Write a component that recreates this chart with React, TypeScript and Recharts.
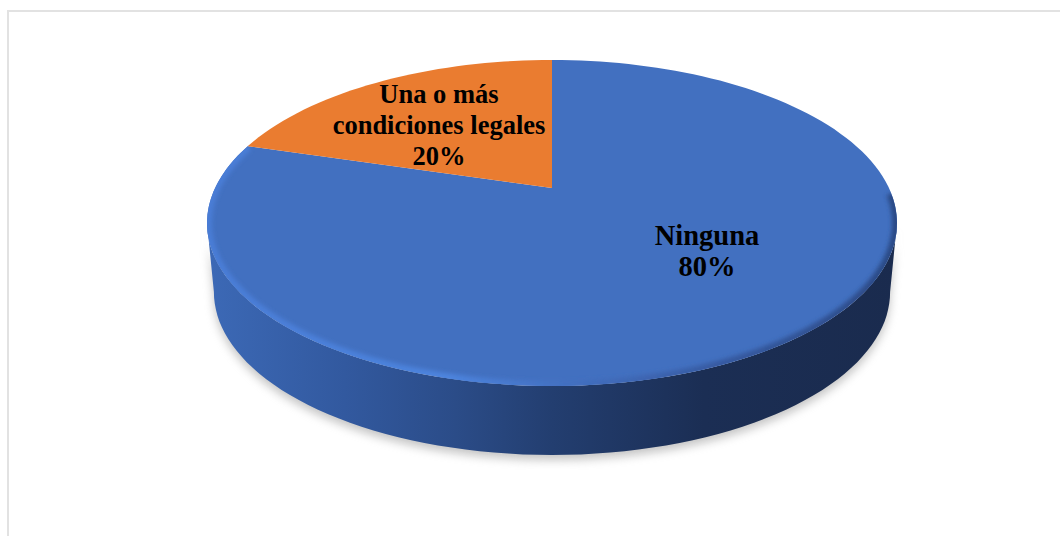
import React from "react";
import { PieChart, Pie, Cell } from "recharts";

// share of cases per category (labels round to 80 / 20)
const categories = ["Ninguna", "Una o más condiciones legales"];
const shares = [79.6, 20.4];
const sliceColors = ["#4270c0", "#ea7c30"];
const labelLines = [["Ninguna"], ["Una o más", "condiciones legales"]];

const data = categories.map((name, i) => ({ name, value: shares[i] }));

const W = 1060;
const H = 536;
const CX = 552;
const CY = 223;
const RX = 345;
const RY = 163;
const APEX_LIFT = 35; // the disc centre sits above the ellipse centre (perspective)
const DEPTH = 69;
const BOTTOM_SHRINK = 0.98;

// label centre relative to the pie centre
const labelOffset = [
  { dx: 155, dy: 37 },
  { dx: -113, dy: -89 },
];
const labelSize = [28.5, 26.5];

// disc angle -> screen point, a perspective map of the unit circle onto the ellipse
const c = APEX_LIFT / RY;
const project = (deg: number, cx: number, cy: number, rx: number, r = 1) => {
  const a = (deg * Math.PI) / 180;
  const u = Math.cos(a) * r;
  const v = Math.sin(a) * r;
  const d = 1 + c * v;
  const A = rx * Math.sqrt(1 - c * c);
  return { x: cx + (A * u) / d, y: cy - (RY * v + APEX_LIFT) / d };
};

const arcPoints = (from: number, to: number, cx: number, cy: number, rx: number, r = 1) => {
  const n = Math.max(8, Math.ceil(Math.abs(to - from) / 2));
  const pts = [];
  for (let i = 0; i <= n; i++) pts.push(project(from + ((to - from) * i) / n, cx, cy, rx, r));
  return pts;
};

const toPath = (pts: { x: number; y: number }[]) =>
  pts.map((p, i) => `${i ? "L" : "M"}${p.x.toFixed(1)} ${p.y.toFixed(1)}`).join(" ");

// angle where the disc outline reaches its widest point on screen
const SIDE_ANGLE = (Math.asin(c) * 180) / Math.PI;

function WallSector(props: any) {
  const { cx, cy, outerRadius, index } = props;
  if (index !== 0) return null;
  const from = -SIDE_ANGLE;
  const to = -180 + SIDE_ANGLE;
  const top = arcPoints(from, to, cx, cy, outerRadius);
  const bottom = arcPoints(to, from, cx, cy, outerRadius).map((p) => ({
    x: cx + (p.x - cx) * BOTTOM_SHRINK,
    y: p.y + DEPTH,
  }));
  const d = `${toPath(top)} ${toPath(bottom).replace("M", "L")} Z`;
  return (
    <g>
      <path d={d} fill="#8a8a8a" opacity={0.5} transform="translate(0 5)" filter="url(#pieShadow)" />
      <path d={d} fill="url(#wallFill)" />
    </g>
  );
}

function TopSector(props: any) {
  const { cx, cy, outerRadius, startAngle, endAngle, fill, index } = props;
  const rim = arcPoints(startAngle, endAngle, cx, cy, outerRadius);
  const apex = project(0, cx, cy, outerRadius, 0);
  const d = `M${apex.x} ${apex.y} ${toPath(rim).replace("M", "L")} Z`;
  return (
    <g>
      <path d={d} fill={fill} />
      {index === 0 && (
        <path
          d={toPath(arcPoints(-2, endAngle, cx, cy, outerRadius))}
          fill="none"
          stroke="url(#rimStroke)"
          strokeWidth={10}
          filter="url(#rimBlur)"
          clipPath="url(#faceClip)"
        />
      )}
    </g>
  );
}

function SliceLabel(props: any) {
  const { cx, cy, percent, index } = props;
  const x = cx + labelOffset[index].dx;
  const lines = [...labelLines[index], `${Math.round(percent * 100)}%`];
  const y0 = cy + labelOffset[index].dy - ((lines.length - 1) * 31) / 2;
  return (
    <text
      x={x}
      y={y0}
      textAnchor="middle"
      fontFamily="'Liberation Serif', serif"
      fontWeight="bold"
      fontSize={labelSize[index]}
      fill="#000"
    >
      {lines.map((line, i) => (
        <tspan key={line} x={x} y={y0 + i * 31}>
          {line}
        </tspan>
      ))}
    </text>
  );
}

export default function App() {
  return (
    <div style={{ position: "absolute", left: 0, top: 0, width: W, height: H, background: "#fff", overflow: "hidden" }}>
      <div
        style={{
          position: "absolute",
          left: 7,
          top: 10,
          width: 1053,
          height: 526,
          boxSizing: "border-box",
          borderLeft: "2px solid #e2e2e2",
          borderTop: "2px solid #e2e2e2",
        }}
      />
      <PieChart width={W} height={H} margin={{ top: 0, right: 0, bottom: 0, left: 0 }} style={{ position: "absolute", left: 0, top: 0 }}>
        <defs>
          <linearGradient id="wallFill" gradientUnits="userSpaceOnUse" x1={207} x2={897} y1={0} y2={0}>
            <stop offset="0" stopColor="#3c69b6" />
            <stop offset="0.2" stopColor="#32599f" />
            <stop offset="0.36" stopColor="#2b4c88" />
            <stop offset="0.5" stopColor="#233e70" />
            <stop offset="0.72" stopColor="#1b2e54" />
            <stop offset="1" stopColor="#1a2b4e" />
          </linearGradient>
          <linearGradient id="rimStroke" gradientUnits="userSpaceOnUse" x1={207} x2={897} y1={0} y2={0}>
            <stop offset="0" stopColor="#4a7dd6" />
            <stop offset="0.35" stopColor="#4d84de" />
            <stop offset="0.5" stopColor="#4472c4" />
            <stop offset="0.75" stopColor="#3659a0" />
            <stop offset="1" stopColor="#2b4a85" />
          </linearGradient>
          <filter id="pieShadow" x="-10%" y="-10%" width="120%" height="130%">
            <feGaussianBlur stdDeviation="5" />
          </filter>
          <filter id="rimBlur" x="-5%" y="-5%" width="110%" height="110%">
            <feGaussianBlur stdDeviation="2" />
          </filter>
          <clipPath id="faceClip">
            <ellipse cx={CX} cy={CY} rx={RX} ry={RY} />
          </clipPath>
        </defs>
        <Pie
          data={data}
          dataKey="value"
          nameKey="name"
          cx={CX}
          cy={CY}
          innerRadius={0}
          outerRadius={RX}
          startAngle={90}
          endAngle={-270}
          stroke="none"
          shape={WallSector}
          isAnimationActive={false}
        />
        <Pie
          data={data}
          dataKey="value"
          nameKey="name"
          cx={CX}
          cy={CY}
          innerRadius={0}
          outerRadius={RX}
          startAngle={90}
          endAngle={-270}
          stroke="none"
          shape={TopSector}
          label={SliceLabel}
          labelLine={false}
          isAnimationActive={false}
        >
          {data.map((d, i) => (
            <Cell key={d.name} fill={sliceColors[i]} />
          ))}
        </Pie>
      </PieChart>
    </div>
  );
}
